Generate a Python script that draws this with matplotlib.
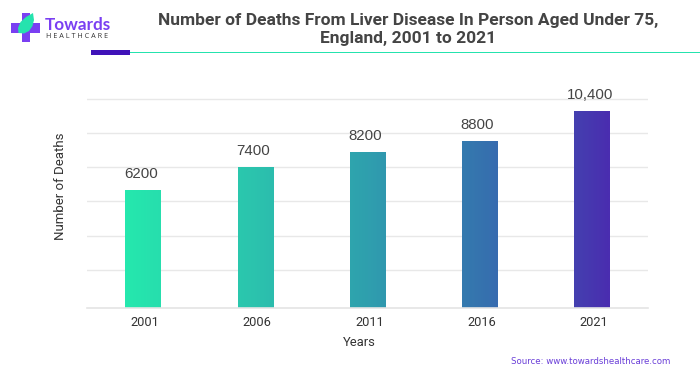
import numpy as np
import matplotlib
matplotlib.use('Agg')
import matplotlib.pyplot as plt
from matplotlib.colors import LinearSegmentedColormap
from matplotlib.patches import Polygon, Rectangle
from matplotlib.transforms import ScaledTranslation

# Chart data
years = ['2001', '2006', '2011', '2016', '2021']
deaths = [6200, 7400, 8200, 8800, 10400]
bar_labels = ['6200', '7400', '8200', '8800', '10,400']
grid_values = [2000, 3820, 5640, 7440, 9250, 11050]

W, H = 700, 375
fig = plt.figure(figsize=(W / 100, H / 100), dpi=100, facecolor='white')

# Main plot area, placed to the pixel
ax = fig.add_axes([87 / W, 1 - 308 / H, (648 - 87) / W, (308 - 90) / H])
ax.set_xlim(-0.5, 4.5)
ax.set_ylim(0, 218 * 52.8)

ax.set_yticks(grid_values)
ax.set_yticklabels([])
ax.set_xticks(range(len(years)))
ax.set_xticklabels(years, fontsize=9.2, family='Roboto', color='#333333')
ax.tick_params(axis='both', length=0)
ax.tick_params(axis='x', pad=6)
# tick labels sit a little right of the bar centres in the original
shift = ScaledTranslation(2 / 100, 0, fig.dpi_scale_trans)
for lab in ax.get_xticklabels():
    lab.set_transform(lab.get_transform() + shift)
ax.grid(axis='y', color='#e8e8e8', linewidth=1.0)
ax.set_axisbelow(True)
for side in ['top', 'right', 'left']:
    ax.spines[side].set_visible(False)
ax.spines['bottom'].set_color('#e4e4e4')
ax.spines['bottom'].set_linewidth(1.2)

# Bars with one gradient running across the whole set
bars = ax.bar(range(len(years)), deaths, width=0.316, color='none')
cmap = LinearSegmentedColormap.from_list('bars', ['#25E8AE', '#2BC5AD', '#2F9FAE', '#3670AF', '#4A2DB0'])
x_start = bars[0].get_x()
x_end = bars[-1].get_x() + bars[-1].get_width()
for bar in bars:
    x0, x1 = bar.get_x(), bar.get_x() + bar.get_width()
    t = np.linspace((x0 - x_start) / (x_end - x_start), (x1 - x_start) / (x_end - x_start), 32)
    ax.imshow(t[np.newaxis, :], cmap=cmap, vmin=0, vmax=1, aspect='auto',
              extent=(x0, x1, 0, bar.get_height()), zorder=2)
ax.set_xlim(-0.5, 4.5)
ax.set_ylim(0, 218 * 52.8)

for i, (value, label) in enumerate(zip(deaths, bar_labels)):
    ax.annotate(label, (i, value), xytext=(-1.6, 9), textcoords='offset points',
                ha='center', va='baseline', fontsize=10.8, family='Liberation Sans', color='#444444')

# Overlay in pixel coordinates for titles and the logo
page = fig.add_axes([0, 0, 1, 1], facecolor='none')
page.set_xlim(0, W)
page.set_ylim(H, 0)
page.axis('off')

page.text(408.5, 20, 'Number of Deaths From Liver Disease In Person Aged Under 75,', ha='center', va='center',
          fontsize=12.5, fontweight='bold', family='Roboto', color='#444444')
page.text(408.5, 38, 'England, 2001 to 2021', ha='center', va='center',
          fontsize=12.5, fontweight='bold', family='Roboto', color='#444444')

page.text(60, 186, 'Number of Deaths', rotation=90, ha='center', va='center',
          fontsize=9.5, family='Roboto', color='#333333')
page.text(359, 342, 'Years', ha='center', va='center', fontsize=9.4, family='Roboto', color='#333333')
page.text(670, 361.5, 'Source: www.towardshealthcare.com', ha='right', va='center',
          fontsize=6.2, family='DejaVu Sans', color='#6a3fd8')

# Header rule
page.add_patch(Rectangle((91, 50), 39, 4.5, color='#3f12b8', lw=0))
page.add_patch(Rectangle((130, 51.5), 570, 1.8, color='#25e3ae', lw=0))

# Logo
page.add_patch(Rectangle((21.7, 12.7), 8.3, 29, color='#7a3ff2', lw=0))
page.add_patch(Rectangle((11, 22.7), 29, 10.3, color='#7a3ff2', lw=0))
page.add_patch(Polygon([(33, 13), (26, 17), (20.5, 22), (18, 28), (18.5, 33), (24, 33.5), (29, 31),
                        (32.5, 26), (34, 20)], closed=True, color='#25e3ae', lw=0))
page.text(44.5, 24.5, 'Towards', ha='left', va='center', fontsize=12.3, fontweight='bold', family='Lato', color='#7a3ff2')
page.text(45.5, 36.5, 'H E A L T H C A R E', ha='left', va='center', fontsize=5.2, family='Open Sans', color='#333333')

fig.savefig('out.png', dpi=100)
